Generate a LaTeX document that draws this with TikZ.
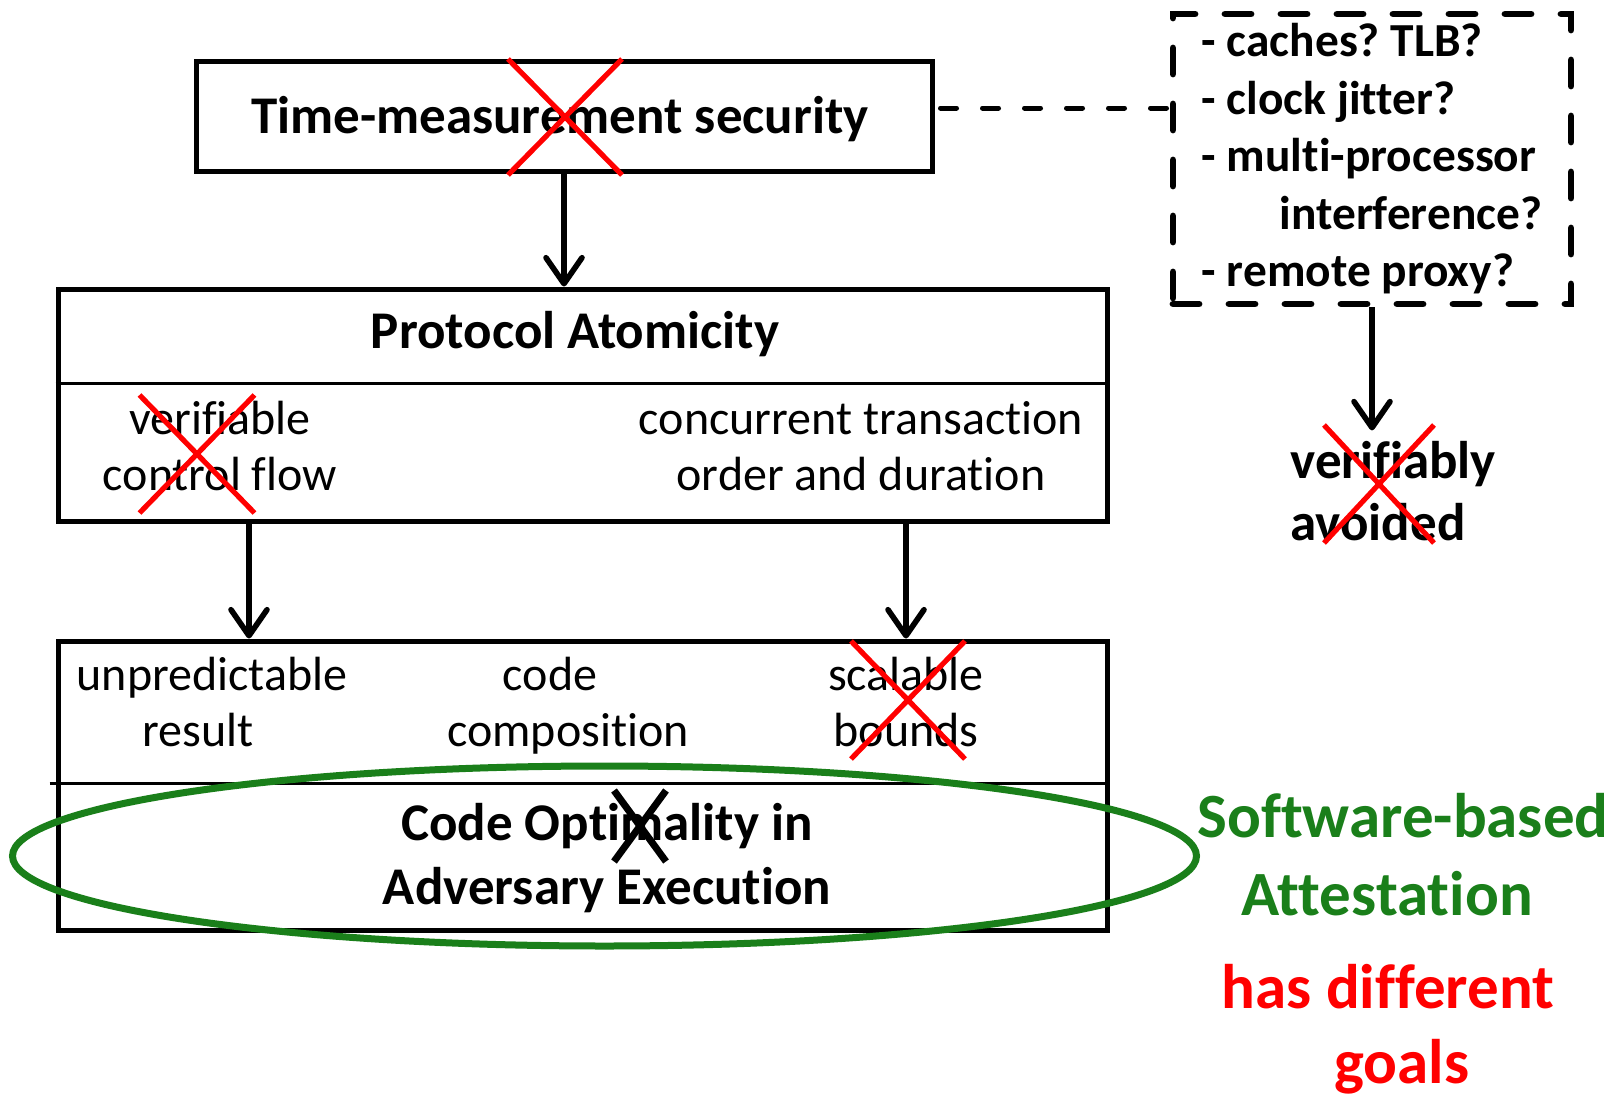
\documentclass[tikz,border=0pt]{standalone}
\usepackage{fontspec}
\setmainfont{Carlito}[Ligatures=NoCommon]
\usepackage{tikz}
\usetikzlibrary{positioning,arrows.meta,calc,shapes.geometric,shapes.misc}
\definecolor{ATGreen}{HTML}{1A7F1A}
\definecolor{ATRed}{HTML}{FF0000}
\frenchspacing

\begin{document}
\begin{tikzpicture}[
  x=0.5pt, y=-0.5pt,
  box/.style={draw, line width=2.5pt, inner sep=0pt},
  dashbox/.style={draw, line width=3.4pt, line cap=round, dash pattern=on 13pt off 15pt, inner sep=0pt, align=left, font=\bfseries\fontsize{23.7}{28.75}\selectfont},
  head/.style={font=\bfseries\fontsize{26.5}{32}\selectfont, align=center, anchor=base, inner sep=0pt},
  item/.style={font=\fontsize{24}{28}\selectfont, align=center, anchor=base, inner sep=0pt},
  note/.style={font=\bfseries\fontsize{31.5}{39}\selectfont, align=center, anchor=base, inner sep=0pt},
  redx/.style={cross out, draw=ATRed, line width=2.6pt, inner sep=0pt, outer sep=0pt},
  arrow/.style={-{Straight Barb[length=13pt,width=18pt,round]}, line width=2.8pt}
]
\useasboundingbox (0,0) rectangle (1618,1098);
% boxes
\node[box, minimum width=368pt, minimum height=55pt] (time) at (564,116) {};
\node[box, minimum width=524.5pt, minimum height=116pt] (proto) at (582.5,405) {};
\node[box, minimum width=524.5pt, minimum height=144.5pt] (bits) at (582.5,785.5) {};
\node[dashbox, minimum width=199pt, minimum height=145pt] (conds) at (1372,159)
  {- caches? TLB?\\- clock jitter?\\- multi-processor\\\hspace*{39pt}interference?\\- remote proxy?};
\coordinate (d1) at (0,383);
\coordinate (d2) at (0,783);
\draw[line width=1.5pt] (proto.west |- d1) -- (proto.east |- d1);
\draw[line width=1.5pt] ([xshift=-3pt]bits.west |- d2) -- (bits.east |- d2);
% texts
\node[head] (ttl) at (560,133) {Time-measurement security};
\node[head] (pa) at (575,348) {Protocol Atomicity};
\node[item] (vcf) at (220,490) {verifiable\\control flow};
\node[item] (ctod) at (861,490) {concurrent transaction\\order and duration};
\node[item] (ur) at (212,746) {unpredictable\\result\hspace*{14pt}};
\node[item] (cc) at (568,746) {code\hspace*{18pt}\\composition};
\node[item] (sb) at (906,746) {scalable\\bounds};
\node[head] (coae) at (607,904) {Code Optimality in\\Adversary Execution};
\node[head, anchor=base west, align=left, font=\bfseries\fontsize{26.5}{31}\selectfont] (va) at (1290,540) {verifiably\\avoided};
\node[note, text=ATGreen] (sba) at (1403,915) {Software-based\\Attestation\hspace*{16pt}};
\node[note, text=ATRed, font=\bfseries\fontsize{31.5}{37.5}\selectfont] (hdg) at (1388,1083) {has different\\\hspace*{14pt}goals};
% crosses
\node[redx, minimum width=57pt, minimum height=58pt] (x1) at (565,117) {};
\node[redx, minimum width=57.5pt, minimum height=59pt] (x2) at (197,454) {};
\node[redx, minimum width=57pt, minimum height=59pt] (x3) at (908,700) {};
\node[redx, minimum width=55pt, minimum height=59pt] (x4) at (1379,484) {};
\node[redx, draw=black, line width=3.5pt, minimum width=26pt, minimum height=35.5pt] (x5) at (640,826) {};
% ring
\node[ellipse, draw=ATGreen, line width=3.5pt, minimum width=592pt, minimum height=90pt, inner sep=0pt] (ring) at (604.5,856) {};
% connectors
\coordinate (a1) at (249,0);
\coordinate (dl) at (0,108);
\draw[line width=2.5pt, line cap=round, dash pattern=on 8pt off 13pt] ([xshift=3pt]time.east |- dl) -- (conds.west |- dl);
\draw[arrow] (time.south) -- (time.south |- proto.north);
\draw[arrow] (proto.south -| a1) -- (bits.north -| a1);
\draw[arrow] (proto.south -| sb) -- (bits.north -| sb);
\draw[arrow] (conds.south) -- ([yshift=5pt]va.north -| conds.south);
\end{tikzpicture}
\end{document}
